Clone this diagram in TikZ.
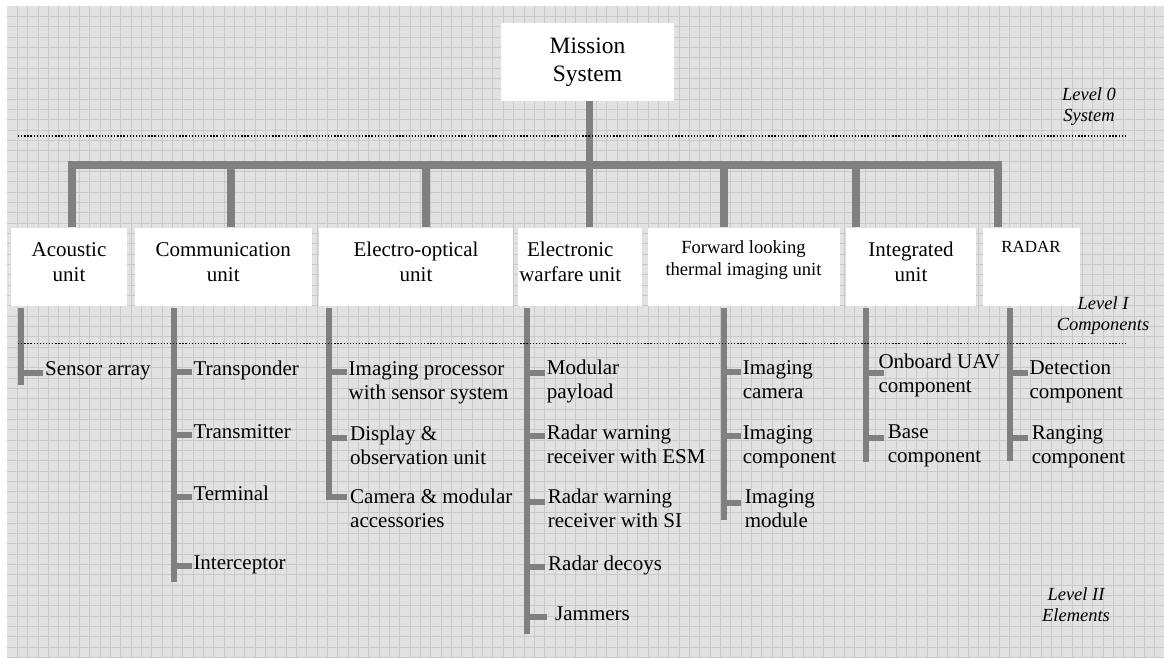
\documentclass[tikz,border=0pt]{standalone}
\usepackage{fontspec}
\setmainfont{Liberation Serif}
\definecolor{paper}{HTML}{E2E2E2}
\definecolor{gridc}{HTML}{C9C9C9}
\definecolor{trunkc}{HTML}{808080}
% multi-line nodes are placed by the baseline of their last line
\tikzset{
  trunk/.style={draw=trunkc, line width=7.5pt},
  twig/.style={draw=trunkc, line width=6pt},
  box/.style={fill=white, inner sep=0pt, anchor=north west},
  toplbl/.style={font=\fontsize{23.5}{28}\selectfont, align=center, anchor=base, inner sep=0pt},
  unitlbl/.style={font=\fontsize{21}{25}\selectfont, align=center, anchor=base, inner sep=0pt},
  item/.style={font=\fontsize{21}{24.5}\selectfont, align=left, anchor=base west, inner sep=0pt},
  level/.style={font=\fontsize{18.5}{21.5}\selectfont\itshape, align=center, anchor=base, inner sep=0pt},
  divider/.style={line width=1.3pt, dash pattern=on 1.3pt off 1.8pt},
}
\newcommand\twigat[3]{\draw[twig] (#1-3,#2) -- (#3,#2);}
\begin{document}
\begin{tikzpicture}[x=1pt, y=-1pt]
\useasboundingbox (0,0) rectangle (1164,657);
% graph paper
\fill[paper] (7,6) rectangle (1164,657);
\foreach \i in {1,...,112} \draw[gridc, line width=1pt] ({7+\i*10.34},6) -- ({7+\i*10.34},657);
\foreach \j in {1,...,63} \draw[gridc, line width=1pt] (7,{6+\j*10.34}) -- (1164,{6+\j*10.34});

% level 0 box
\node[box, minimum width=173pt, minimum height=78pt] (mission) at (501,23) {};

% level I boxes
\node[box, minimum width=115.7pt, minimum height=78.2pt] (acoustic) at (11,227.3) {};
\node[box, minimum width=176.7pt, minimum height=78.2pt] (comm) at (135,227.3) {};
\node[box, minimum width=194pt, minimum height=78.2pt] (eo) at (319,227.3) {};
\node[box, minimum width=124pt, minimum height=78.2pt] (ew) at (518,227.3) {};
\node[box, minimum width=192pt, minimum height=78.2pt] (flir) at (647.3,227.3) {};
\node[box, minimum width=129.7pt, minimum height=78.2pt] (integ) at (846,227.3) {};
\node[box, minimum width=97.7pt, minimum height=78.2pt] (radar) at (982.3,227.3) {};

% level 0 to level I connectors
\coordinate (j1) at (72,165);
\coordinate (j2) at (231,165);
\coordinate (j3) at (426,165);
\coordinate (j4) at (589.5,165);
\coordinate (j5) at (724,165);
\coordinate (j6) at (856,165);
\coordinate (j7) at (998,165);
\draw[trunk] (j1 |- acoustic.north) -- (j1) -- (j7) -- (j7 |- radar.north);
\draw[trunk] (j2) -- (j2 |- comm.north);
\draw[trunk] (j3) -- (j3 |- eo.north);
\draw[trunk] (j4 |- mission.south) -- (j4 |- ew.north);
\draw[trunk] (j5) -- (j5 |- flir.north);
\draw[trunk] (j6) -- (j6 |- integ.north);

% level II stems
\coordinate (aS) at (20.7,308);
\coordinate (cS) at (173.5,308);
\coordinate (oS) at (329,308);
\coordinate (wS) at (527,308);
\coordinate (fS) at (724,308);
\coordinate (iS) at (866,308);
\coordinate (rS) at (1010,308);
\draw[twig] (aS) -- (aS |- 0,385);
\draw[twig] (cS) -- (cS |- 0,582);
\draw[twig] (oS) -- (oS |- 0,500);
\draw[twig] (wS) -- (wS |- 0,634);
\draw[twig] (fS) -- (fS |- 0,520);
\draw[twig] (iS) -- (iS |- 0,461.7);
\draw[twig] (rS) -- (rS |- 0,460.7);

% level dividers
\draw[divider] (18,136) -- (1125,136);
\draw[divider] (18,343.3) -- (1125,343.3);
\node[level] at (1089,121.5) {Level 0\\System};
\node[level] at (1103,330.8) {Level I\\Components};
\node[level] at (1076,621.5) {Level II\\Elements};

% box labels
\node[toplbl] at (587.5,81.3) {Mission\\System};
\node[unitlbl] at (69,281) {Acoustic\\unit};
\node[unitlbl] at (223.3,281) {Communication\\unit};
\node[unitlbl] at (416,281) {Electro-optical\\unit};
\node[unitlbl] at (570.3,281) {Electronic\\warfare unit};
\node[font=\fontsize{18.6}{22}\selectfont, align=center, anchor=base, inner sep=0pt] at (743.5,275.3) {Forward looking\\thermal imaging unit};
\node[unitlbl] at (911,281) {Integrated\\unit};
\node[font=\fontsize{17}{20}\selectfont, anchor=base, inner sep=0pt] at (1031,252.3) {RADAR};

% acoustic
\twigat{20.7}{372.5}{43.3}
\node[item] (a1) at (45,375) {Sensor array};
% communication
\twigat{173.5}{372}{191.7}
\twigat{173.5}{435}{191.7}
\twigat{173.5}{497}{191.7}
\twigat{173.5}{566}{191.7}
\node[item] (c1) at (193.3,375) {Transponder};
\node[item] (c2) at (193.3,438) {Transmitter};
\node[item] (c3) at (193.3,500) {Terminal};
\node[item] (c4) at (193.3,569) {Interceptor};
% electro-optical
\twigat{329}{372}{346.7}
\twigat{329}{438}{346.7}
\twigat{329}{497}{346.7}
\node[item] (o1) at (348.5,399.5) {Imaging processor\\with sensor system};
\node[item] (o2) at (350,464.5) {Display \&\\observation unit};
\node[item] (o3) at (350,527.5) {Camera \& modular\\accessories};
% electronic warfare
\twigat{527}{372.5}{545}
\twigat{527}{436}{545}
\twigat{527}{502}{545}
\twigat{527}{567}{545}
\twigat{527}{617}{546.7}
\node[item] (w1) at (546.7,398.5) {Modular\\payload};
\node[item] (w2) at (546.7,463.5) {Radar warning\\receiver with ESM};
\node[item] (w3) at (547.7,527.8) {Radar warning\\receiver with SI};
\node[item] (w4) at (548,570.7) {Radar decoys};
\node[item] (w5) at (555,620.7) {Jammers};
% thermal imaging
\twigat{724}{372}{740.7}
\twigat{724}{436}{740.7}
\twigat{724}{502.5}{740.7}
\node[item] (f1) at (742.7,398.5) {Imaging\\camera};
\node[item] (f2) at (742.7,463.5) {Imaging\\component};
\node[item] (f3) at (744.7,527.8) {Imaging\\module};
% integrated
\twigat{866}{373}{884}
\twigat{866}{438}{884}
\node[item] (i1) at (878.3,392.8) {Onboard UAV\\component};
\node[item] (i2) at (887.7,462.8) {Base\\component};
% radar
\twigat{1010}{373}{1028.3}
\twigat{1010}{438}{1028.3}
\node[item] (r1) at (1029.3,398.5) {Detection\\component};
\node[item] (r2) at (1031.7,463.8) {Ranging\\component};
\end{tikzpicture}
\end{document}
